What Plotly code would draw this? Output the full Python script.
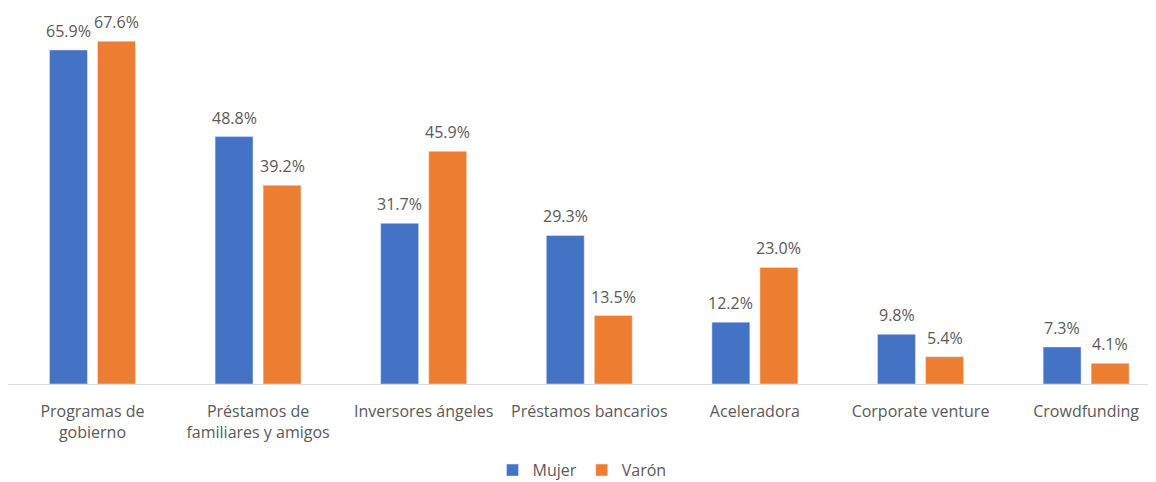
import plotly.graph_objects as go

categories = ["Programas de<br>gobierno", "Préstamos de<br>familiares y amigos", "Inversores ángeles",
              "Préstamos bancarios", "Aceleradora", "Corporate venture", "Crowdfunding"]
mujer = [65.9, 48.8, 31.7, 29.3, 12.2, 9.8, 7.3]
varon = [67.6, 39.2, 45.9, 13.5, 23.0, 5.4, 4.1]

font_family = "Open Sans, Noto Sans, sans-serif"
txt = "#595959"

fig = go.Figure()
fig.add_trace(go.Bar(name="Mujer", x=categories, y=mujer, marker_color="#4472C4"))
fig.add_trace(go.Bar(name="Varón", x=categories, y=varon, marker_color="#ED7D31"))

# value labels, placed above each bar of the group
for series, shift in ((mujer, -24), (varon, 24)):
    for c, v in zip(categories, series):
        fig.add_annotation(x=c, y=v, text=f"{v:.1f}%", showarrow=False, xref="x", yref="y",
                           xshift=shift, yshift=19, font=dict(size=16, color=txt, family=font_family))

# page has an 8px body margin, so the figure is sized to fit the visible window
fig.update_layout(
    width=1148, height=474,
    margin=dict(l=0, r=0, t=11, b=98, autoexpand=False),
    plot_bgcolor="white", paper_bgcolor="white",
    barmode="group", bargap=0.42, bargroupgap=0.21,
    font=dict(family=font_family, size=16, color=txt),
    showlegend=True,
    legend=dict(orientation="h", x=0.5, xanchor="center", xref="container",
                y=0.025, yanchor="middle", yref="container",
                font=dict(size=16, color=txt), itemwidth=30, traceorder="normal"),
)
fig.update_xaxes(showline=True, linecolor="#D9D9D9", linewidth=1, ticks="", showgrid=False,
                 tickfont=dict(size=16, color=txt), automargin=False, ticklabelstandoff=13,
                 range=[-0.51, 6.422])
fig.update_yaxes(range=[0, 72], visible=False, showgrid=False, zeroline=False, automargin=False)

fig.write_html("out.html")
